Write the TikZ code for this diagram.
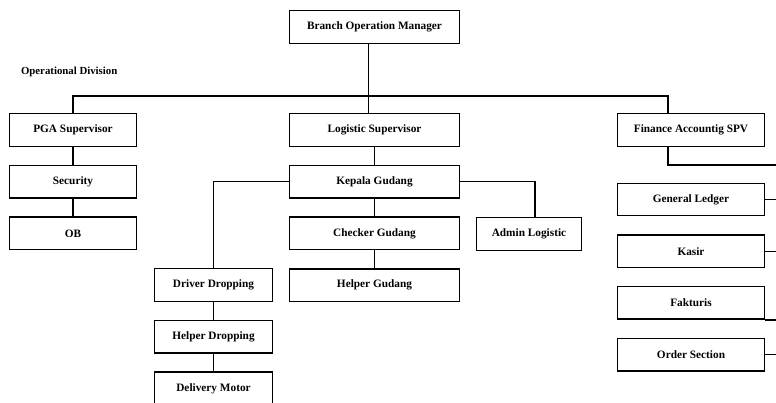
\documentclass[tikz,border=0pt]{standalone}
\usepackage{fontspec}
\setmainfont{Liberation Serif}
\usetikzlibrary{positioning}

\begin{document}
\begin{tikzpicture}[x=1pt,y=-1pt,line width=1.4pt,
    font=\fontsize{11.3}{13}\selectfont\bfseries,
    box/.style={rectangle,draw,minimum height=32.5pt,inner sep=2pt},
    node distance=51.7pt]
  \clip (0,0) rectangle (776,402);
  % top
  \node[box,minimum width=169.5pt] (bom) at (374.5,27) {Branch Operation Manager};
  \node[anchor=west,font=\fontsize{10.8}{12}\selectfont\bfseries] (opdiv) at (17,72) {Operational Division};
  % second row
  \node[box,minimum width=126.5pt] (pga) at (73,130) {PGA Supervisor};
  \node[box,minimum width=169.5pt] (logsup) at (374.5,130) {Logistic Supervisor};
  \node[box,minimum width=146.5pt] (finspv) at (691,130) {Finance Accountig SPV};
  % PGA branch
  \node[box,minimum width=126.5pt,below of=pga] (security) {Security};
  \node[box,minimum width=126.5pt,below of=security] (ob) {OB};
  % logistic branch
  \node[box,minimum width=169.5pt,below of=logsup] (kepala) {Kepala Gudang};
  \node[box,minimum width=169.5pt,below of=kepala] (checker) {Checker Gudang};
  \node[box,minimum width=169.5pt,below of=checker] (helpgud) {Helper Gudang};
  \node[box,minimum width=104.5pt] (admin) at (529,234) {Admin Logistic};
  \node[box,minimum width=117.5pt] (driver) at (213.5,285) {Driver Dropping};
  \node[box,minimum width=117.5pt,below of=driver] (helpdrop) {Helper Dropping};
  \node[box,minimum width=117.5pt,below of=helpdrop] (delivery) {Delivery Motor};
  % finance branch
  \node[box,minimum width=146.5pt] (ledger) at (691,199.5) {General Ledger};
  \node[box,minimum width=146.5pt,below of=ledger] (kasir) {Kasir};
  \node[box,minimum width=146.5pt,below of=kasir] (fakturis) {Fakturis};
  \node[box,minimum width=146.5pt,below of=fakturis] (order) {Order Section};
  \coordinate (spine) at (792,165);

  \draw ([xshift=-6pt]bom.south) -- ([xshift=-6pt]logsup.north);
  \draw (pga.north) -- ++(0,-17) -| ([xshift=-23pt]finspv.north);
  \draw (pga) -- (security);
  \draw (security) -- (ob);
  \draw (logsup) -- (kepala);
  \draw (kepala) -- (checker);
  \draw (checker) -- (helpgud);
  \draw (kepala.east) -| ([xshift=6pt]admin.north);
  \draw (kepala.west) -| (driver.north);
  \draw (driver) -- (helpdrop);
  \draw (helpdrop) -- (delivery);
  \draw ([xshift=-23pt]finspv.south) |- (spine);
  \draw (spine) |- (order.east);
  \draw (ledger.east) -- (ledger.east -| spine);
  \draw (kasir.east) -- (kasir.east -| spine);
  \draw (fakturis.south east) -- (fakturis.south east -| spine);
\end{tikzpicture}
\end{document}
